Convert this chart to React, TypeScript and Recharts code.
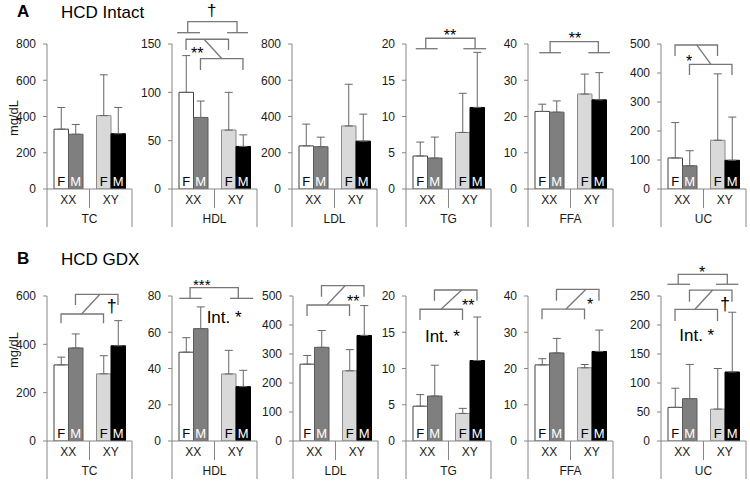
import React from 'react';
import { BarChart, Bar, XAxis, YAxis, Cell, ErrorBar, LabelList } from 'recharts';

const FONT = '"Liberation Sans", Arial, Helvetica, sans-serif';
const AXIS = '#868686';
const BRACKET = '#777777';
const INK = '#1a1a1a';

const genotypes = ['XX', 'XY'];
const analytes = ['TC', 'HDL', 'LDL', 'TG', 'FFA', 'UC'];

// each row: [F XX, M XX, F XY, M XY]
const intactMeans = [
  [330, 302, 405, 305],
  [100, 74, 61, 44],
  [238, 233, 348, 264],
  [4.55, 4.27, 7.8, 11.25],
  [21.4, 21.2, 26.2, 24.6],
  [107, 80, 168, 99],
];
const intactSd = [
  [120, 54, 225, 145],
  [38, 17, 39, 12],
  [120, 53, 230, 149],
  [1.92, 2.89, 5.4, 7.6],
  [2.0, 3.1, 5.5, 7.5],
  [122, 52, 229, 149],
];
const gdxMeans = [
  [315, 385, 278, 394],
  [49, 62, 37, 30],
  [265, 323, 242, 364],
  [4.8, 6.2, 3.8, 11.1],
  [21, 24.3, 20.2, 24.7],
  [58, 73, 55, 119],
];
const gdxSd = [
  [32, 58, 75, 104],
  [8, 12, 13, 9],
  [30, 58, 73, 103],
  [1.6, 4.25, 0.7, 6.0],
  [1.7, 4.0, 0.9, 5.9],
  [33, 59, 70, 103],
];
const intactTicks = [
  [0, 200, 400, 600, 800],
  [0, 50, 100, 150],
  [0, 200, 400, 600, 800],
  [0, 5, 10, 15, 20],
  [0, 10, 20, 30, 40],
  [0, 100, 200, 300, 400, 500],
];
const gdxTicks = [
  [0, 200, 400, 600],
  [0, 20, 40, 60, 80],
  [0, 100, 200, 300, 400, 500],
  [0, 5, 10, 15, 20],
  [0, 10, 20, 30, 40],
  [0, 50, 100, 150, 200, 250],
];

const fFill = ['#ffffff', '#d9d9d9'];
const fStroke = ['#404040', '#8a8a8a'];
const mFill = ['#7f7f7f', '#000000'];
const mStroke = ['#5a5a5a', '#000000'];

// layout
const PLOT_W = 85;
const PLOT_H = 145;
const TOP = 44;
const BOTTOM = 40;
const YW = 34;
const intactLeft = [47, 172, 292, 406, 528, 661];
const gdxLeft = [47, 172, 293, 406, 528, 661];

// significance marks, x in bar units (0..4 across the plot), y in data units
const C0 = 0.66, C1 = 1.34, C2 = 2.66, C3 = 3.34;
const br = (a: number, b: number, top: number, leg: number) => [[a, leg], [a, top], [b, top], [b, leg]];

const intactAnn = [
  { lines: [], texts: [] },
  {
    lines: [
      [[0.24, 161.7], [1.32, 161.7]], [[2.59, 161.7], [3.58, 161.7]],
      br(0.74, 3.06, 173.1, 161.7),
      br(C0, C2, 154.9, 143.8), br(C1, C3, 134.8, 123.1),
      [[1.51, 154.9], [2.35, 134.8]],
    ],
    texts: [{ x: 1.87, y: 183.4, t: '†', s: 17 }, { x: 1.19, y: 143.8, t: '**', s: 16 }],
  },
  { lines: [], texts: [] },
  {
    lines: [[[0.46, 19.35], [1.49, 19.35]], [[2.7, 19.35], [3.77, 19.35]], br(0.93, 3.25, 20.79, 19.35)],
    texts: [{ x: 2.07, y: 21.7, t: '**', s: 16 }],
  },
  {
    lines: [[[0.53, 37.6], [1.55, 37.6]], [[2.84, 37.6], [3.86, 37.6]], br(1.04, 3.31, 40.63, 37.6)],
    texts: [{ x: 2.21, y: 42.5, t: '**', s: 16 }],
  },
  {
    lines: [br(C0, C2, 496.6, 458.6), br(C1, C3, 430, 393), [[1.68, 496.6], [2.35, 430]]],
    texts: [{ x: 1.32, y: 454, t: '*', s: 16 }],
  },
];

const gdxAnn = [
  {
    lines: [br(C1, C3, 607, 562.8), br(C0, C2, 525.5, 487), [[1.63, 525.5], [2.49, 607]]],
    texts: [{ x: 3.05, y: 555.7, t: '†', s: 18 }],
  },
  {
    lines: [[[0.34, 78.7], [1.4, 78.7]], [[2.73, 78.7], [3.81, 78.7]], br(0.85, 3.12, 84.6, 78.7)],
    texts: [{ x: 1.4, y: 87.9, t: '***', s: 15 }, { x: 1.63, y: 68.25, t: 'Int. *', s: 17, a: 'start' }],
  },
  {
    lines: [br(C1, C3, 535.5, 497.6), br(C0, C2, 469, 431), [[1.59, 469], [2.45, 535.5]]],
    texts: [{ x: 2.84, y: 495.5, t: '**', s: 16 }],
  },
  {
    lines: [br(C1, C3, 20.83, 19.35), br(C0, C2, 18.17, 16.69), [[1.65, 18.17], [2.62, 20.83]]],
    texts: [{ x: 2.93, y: 19.2, t: '**', s: 16 }, { x: 0.89, y: 14.5, t: 'Int. *', s: 17, a: 'start' }],
  },
  {
    lines: [br(C1, C3, 41.85, 38.7), br(C0, C2, 36.4, 33.6), [[1.79, 36.4], [2.73, 41.85]]],
    texts: [{ x: 2.92, y: 38.6, t: '*', s: 16 }],
  },
  {
    lines: [
      [[0.3, 270.2], [1.37, 270.2]], [[2.59, 270.2], [3.64, 270.2]], br(0.81, 3.12, 287.4, 270.2),
      br(C1, C3, 260.3, 240.2), br(C0, C2, 227.1, 206.9), [[1.6, 227.1], [2.43, 260.3]],
    ],
    texts: [
      { x: 1.94, y: 297.8, t: '*', s: 16 },
      { x: 3.01, y: 234.5, t: '†', s: 18 },
      { x: 0.86, y: 182.8, t: 'Int. *', s: 17, a: 'start' },
    ],
  },
];

const CatTick = (props: any) => {
  const { x, y, payload, index, group } = props;
  const h = PLOT_W / 4;
  return (
    <g>
      <text x={x} y={y + 15} textAnchor="middle" fontSize={12} fill={INK}>{payload.value}</text>
      {index === 0 ? (
        <>
          <line x1={x - h} y1={y} x2={x - h} y2={y + 38} stroke={AXIS} />
          <text x={x + h} y={y + 34} textAnchor="middle" fontSize={12} fill={INK}>{group}</text>
        </>
      ) : (
        <>
          <line x1={x - h} y1={y} x2={x - h} y2={y + 19} stroke={AXIS} />
          <line x1={x + h} y1={y} x2={x + h} y2={y + 38} stroke={AXIS} />
        </>
      )}
    </g>
  );
};

const Letter = (props: any) => {
  const { x, y, width, height, letter } = props;
  return (
    <text x={x + width / 2} y={y + height - 3} textAnchor="middle" fontSize={13} fill={letter === 'F' ? '#000000' : '#ffffff'}>
      {letter}
    </text>
  );
};

// significance brackets drawn over the plot, mapped with the same geometry as the chart's plot area
function Marks({ ann, max }: any) {
  const px = (u: number) => YW + (u * PLOT_W) / 4;
  const py = (v: number) => TOP + PLOT_H * (1 - v / max);
  return (
    <svg width={YW + PLOT_W + 8} height={TOP + PLOT_H} style={{ position: 'absolute', left: 0, top: 0, overflow: 'visible', pointerEvents: 'none' }}>
      {ann.lines.map((pl: number[][], j: number) => (
        <polyline
          key={j}
          points={pl.map((p) => `${px(p[0])},${py(p[1])}`).join(' ')}
          fill="none"
          stroke={BRACKET}
          strokeWidth={1.3}
        />
      ))}
      {ann.texts.map((tx: any, j: number) => {
        const k = tx.t.startsWith('Int') ? 0.36 : tx.t === '†' ? 0.27 : 0.58;
        return (
          <text key={j} x={px(tx.x)} y={py(tx.y) + k * tx.s} textAnchor={tx.a || 'middle'} fontSize={tx.s} fill="#000" fontFamily={FONT}>
            {tx.t}
          </text>
        );
      })}
    </svg>
  );
}

function Panel({ left, top, means, sd, ticks, name, ann }: any) {
  const data = genotypes.map((g, i) => ({
    g,
    F: means[i * 2],
    M: means[i * 2 + 1],
    Fe: [0, sd[i * 2]],
    Me: [0, sd[i * 2 + 1]],
  }));
  const max = ticks[ticks.length - 1];
  return (
    <div style={{ position: 'absolute', left: left - YW, top }}>
      <BarChart
        width={YW + PLOT_W + 8}
        height={TOP + PLOT_H + BOTTOM}
        data={data}
        margin={{ top: TOP, right: 8, bottom: 0, left: 0 }}
        barGap={0}
        barSize={14.5}
        style={{ fontFamily: FONT }}
      >
        <XAxis
          dataKey="g"
          height={BOTTOM}
          tickLine={false}
          tickSize={0}
          tickMargin={0}
          interval={0}
          axisLine={{ stroke: AXIS }}
          tick={<CatTick group={name} />}
        />
        <YAxis
          width={YW}
          domain={[0, max]}
          ticks={ticks}
          allowDataOverflow
          interval={0}
          tickSize={4}
          tickMargin={7}
          tick={{ fontSize: 12, fill: INK }}
          axisLine={{ stroke: AXIS }}
          tickLine={{ stroke: AXIS }}
        />
        <Bar dataKey="F" isAnimationActive={false}>
          {data.map((_, i) => (
            <Cell key={i} fill={fFill[i]} stroke={fStroke[i]} strokeWidth={1} />
          ))}
          <ErrorBar dataKey="Fe" width={4} stroke="#666" strokeWidth={1} direction="y" isAnimationActive={false} />
          <LabelList dataKey="F" content={<Letter letter="F" />} />
        </Bar>
        <Bar dataKey="M" isAnimationActive={false}>
          {data.map((_, i) => (
            <Cell key={i} fill={mFill[i]} stroke={mStroke[i]} strokeWidth={1} />
          ))}
          <ErrorBar dataKey="Me" width={4} stroke="#666" strokeWidth={1} direction="y" isAnimationActive={false} />
          <LabelList dataKey="M" content={<Letter letter="M" />} />
        </Bar>
      </BarChart>
      <Marks ann={ann} max={max} />
    </div>
  );
}

export default function App() {
  const rowB = 252;
  return (
    <div style={{ position: 'absolute', left: 0, top: 0, width: 750, height: 482, overflow: 'hidden', background: '#fff', fontFamily: FONT }}>
      {analytes.map((a, i) => (
        <Panel key={`a${a}`} left={intactLeft[i]} top={0} means={intactMeans[i]} sd={intactSd[i]} ticks={intactTicks[i]} name={a} ann={intactAnn[i]} />
      ))}
      {analytes.map((a, i) => (
        <Panel key={`b${a}`} left={gdxLeft[i]} top={rowB} means={gdxMeans[i]} sd={gdxSd[i]} ticks={gdxTicks[i]} name={a} ann={gdxAnn[i]} />
      ))}
      <svg width={750} height={482} style={{ position: 'absolute', left: 0, top: 0, pointerEvents: 'none' }}>
        <text x={17} y={17} fontSize={17} fontWeight="bold" fill="#000">A</text>
        <text x={61} y={18} fontSize={17} fill="#000">HCD Intact</text>
        <text x={17} y={264} fontSize={17} fontWeight="bold" fill="#000">B</text>
        <text x={61} y={265} fontSize={17} fill="#000">HCD GDX</text>
        <text x={13} y={118} fontSize={13} fill={INK} textAnchor="middle" dominantBaseline="central" transform="rotate(-90 13 118)">mg/dL</text>
        <text x={13} y={350} fontSize={13} fill={INK} textAnchor="middle" dominantBaseline="central" transform="rotate(-90 13 350)">mg/dL</text>
      </svg>
    </div>
  );
}
